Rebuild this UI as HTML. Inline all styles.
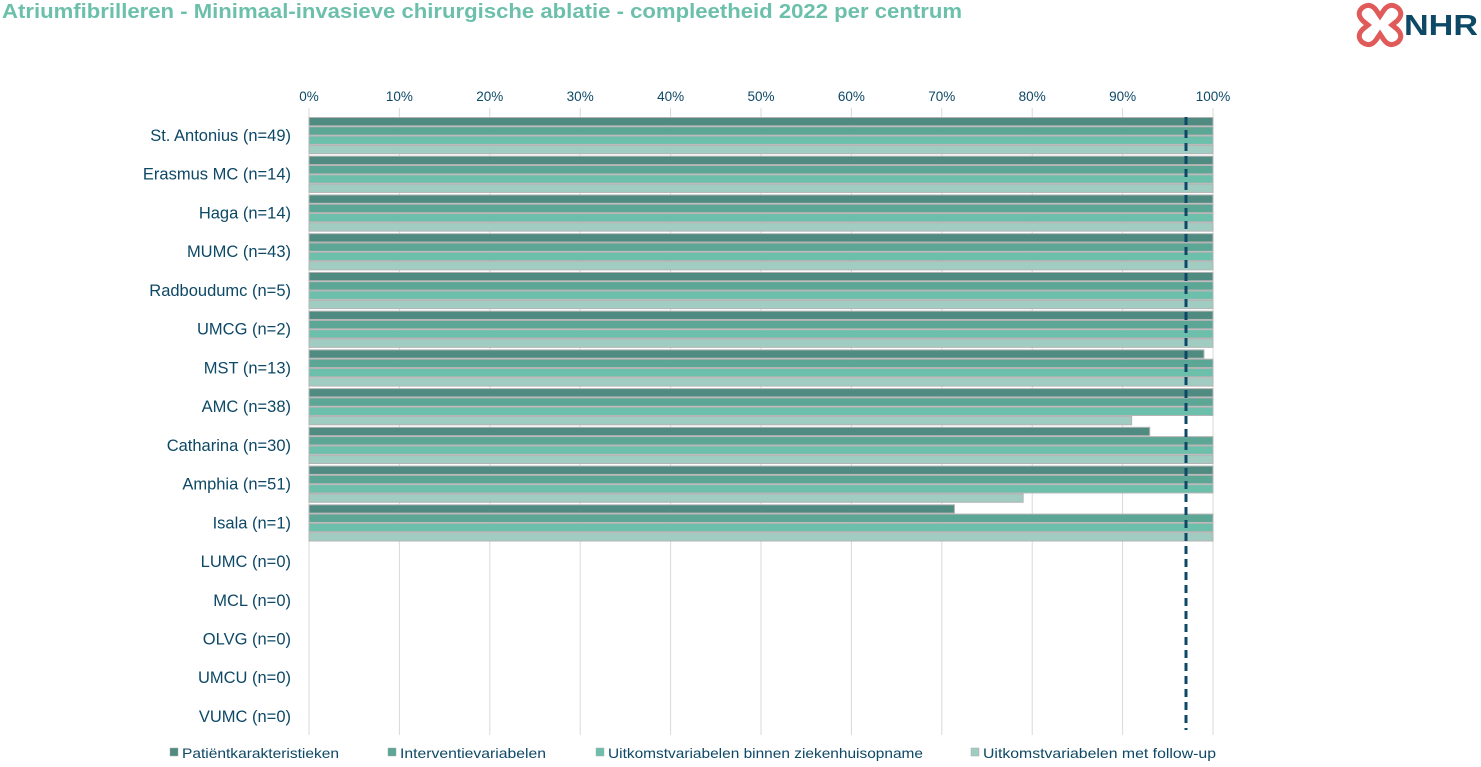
<!DOCTYPE html>
<html><head><meta charset="utf-8"><style>
body{margin:0;background:#fff;font-family:"Liberation Sans",sans-serif;}
svg text{font-family:"Liberation Sans",sans-serif;}
</style></head><body>
<svg width="1481" height="762">
<text x="2" y="18" font-size="20" font-weight="bold" fill="#6cc0ab" textLength="960" lengthAdjust="spacingAndGlyphs">Atriumfibrilleren - Minimaal-invasieve chirurgische ablatie - compleetheid 2022 per centrum</text>
<g>
<path d="M1362 8 q8-6 14 2 l4 6 l4-6 q6-8 14-2 q6 6-1 13 l-5 4 l5 4 q7 7 1 13 q-8 6-14-2 l-4-6 l-4 6 q-6 8-14 2 q-6-6 1-13 l5-4 l-5-4 q-7-7-1-13z" fill="none" stroke="#e05a5a" stroke-width="5"/>
<text x="1404" y="35" font-size="29" font-weight="bold" fill="#0d4866" textLength="74" lengthAdjust="spacingAndGlyphs">NHR</text>
</g>
<g id="grid"></g><g id="bars"></g><g id="labels"></g>
<line x1="1186" y1="117" x2="1186" y2="730" stroke="#0d4866" stroke-width="3" stroke-dasharray="8,5"/>
<g id="legend"></g>
</svg>
<script>
const categories=["St. Antonius  (n=49)","Erasmus MC (n=14)","Haga (n=14)","MUMC (n=43)","Radboudumc (n=5)","UMCG (n=2)","MST (n=13)","AMC (n=38)","Catharina (n=30)","Amphia (n=51)","Isala (n=1)","LUMC (n=0)","MCL (n=0)","OLVG (n=0)","UMCU (n=0)","VUMC (n=0)"];
const patient=[100,100,100,100,100,100,99,100,93,100,71.4,0,0,0,0,0];
const interventie=[100,100,100,100,100,100,100,100,100,100,100,0,0,0,0,0];
const uitkomstZkh=[100,100,100,100,100,100,100,100,100,100,100,0,0,0,0,0];
const uitkomstFu=[100,100,100,100,100,100,100,91,100,79,100,0,0,0,0,0];
const ticks=[0,10,20,30,40,50,60,70,80,90,100];
const seriesNames=["Patiëntkarakteristieken","Interventievariabelen","Uitkomstvariabelen binnen ziekenhuisopname","Uitkomstvariabelen met follow-up"];
const colors=["#4f8b80","#5ba694","#6cc0ab","#a0ccc2"];
const NS="http://www.w3.org/2000/svg";
const x=v=>309+v*9.04;
const yc=i=>136+i*38.73;
function mk(t,a,p){const e=document.createElementNS(NS,t);for(const k in a)e.setAttribute(k,a[k]);p.appendChild(e);return e;}
const G=document.getElementById('grid'),B=document.getElementById('bars'),L=document.getElementById('labels'),LG=document.getElementById('legend');
ticks.forEach(t=>{
 const l=mk('line',{x1:x(t),x2:x(t),y1:108,y2:735,stroke:'#d9d9d9','stroke-width':1},G);
 
 
 const tx=mk('text',{x:x(t),y:101,'font-size':13.5,'text-anchor':'middle',fill:'#0d4866'},G);
 tx.textContent=t+'%';
 
 
});
const series=[patient,interventie,uitkomstZkh,uitkomstFu];
categories.forEach((c,i)=>{
 const t=mk('text',{x:291,y:yc(i)+5,'font-size':16.5,'text-anchor':'end',fill:'#0d4866','xml:space':'preserve'},L);
 t.textContent=c;
 
 
 series.forEach((s,j)=>{
  if(s[i]<=0)return;
  const r=mk('rect',{x:x(0),y:yc(i)-18.5+j*9.3,width:x(s[i])-x(0),height:8.3,fill:colors[j],stroke:'#b4b4b4','stroke-width':1},B);
  
  
 });
});
const lx=[170,388,596,971];
const lw=[157,146,315,233];
seriesNames.forEach((n,j)=>{
 const r=mk('rect',{x:lx[j],y:748,width:8,height:8,fill:colors[j],stroke:'#aaa','stroke-width':0.5},LG);
 
 
 const t=mk('text',{x:lx[j]+12,y:758,'font-size':14,fill:'#0d4866',textLength:lw[j],lengthAdjust:'spacingAndGlyphs'},LG);
 t.textContent=n;
 
 
});
</script>
</body></html>
